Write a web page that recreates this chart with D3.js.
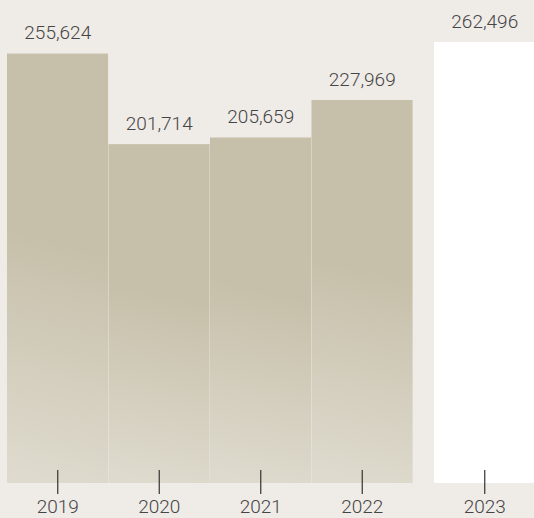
<!DOCTYPE html>
<html lang="en">
    <head>
        <meta charset="utf-8">
        <title>Yearly totals</title>
        <script type="text/javascript" src="https://cdn.jsdelivr.net/npm/d3@7"></script>
        <style>
            body { margin: 0; background: #efebe7; }
            svg { display: block; }
            .label, .tick text {
                font-family: Roboto, sans-serif;
                font-weight: 300;
                font-size: 19px;
                fill: #454545;
            }
        </style>
    </head>
    <body>
        <script type="text/javascript">
            var w = 534;
            var h = 518;

            var years = ["2019", "2020", "2021", "2022", "2023"];
            var totals = [255624, 201714, 205659, 227969, 262496];
            var highlight = ["2023"];

            var base = 483;
            // extra space pushed in front of the highlighted year
            var gap = 21;

            var svg = d3.select("body").append("svg").attr("width", w).attr("height", h);

            var xscale = d3.scaleBand().domain(years).range([7, 514.5]).padding(0);
            var yscale = d3.scaleLinear().domain([0, 287500]).range([base, 0]);

            function xpos(d) {
                return xscale(d) + (highlight.indexOf(d) >= 0 ? gap : 0);
            }

            // mostly vertical fade, a little lighter towards the lower left
            var grad = svg.append("defs").append("linearGradient")
                .attr("id", "barfade")
                .attr("x1", 0.53).attr("y1", 0).attr("x2", 0.47).attr("y2", 1);
            grad.append("stop").attr("offset", 0).attr("stop-color", "#c6c0aa");
            grad.append("stop").attr("offset", 0.44).attr("stop-color", "#c6c0aa");
            grad.append("stop").attr("offset", 1).attr("stop-color", "#dedacd");

            var data = years.map(function (y, i) { return { year: y, value: totals[i] }; });

            svg.append("g").selectAll("rect").data(data).enter().append("rect")
               .attr("x", function (d) { return xpos(d.year); })
               .attr("y", function (d) { return yscale(d.value); })
               .attr("width", xscale.bandwidth() - 0.4)
               .attr("height", function (d) { return base - yscale(d.value); })
               .attr("fill", function (d) { return highlight.indexOf(d.year) >= 0 ? "#ffffff" : "url(#barfade)"; });

            svg.append("g").selectAll("text").data(data).enter().append("text")
               .attr("class", "label")
               .attr("text-anchor", "middle")
               .attr("x", function (d) { return xpos(d.year) + xscale.bandwidth() / 2; })
               .attr("y", function (d) { return yscale(d.value) - 14.5; })
               .text(function (d) { return d3.format(",")(d.value); });

            // axis: ticks cross the baseline, no domain line
            var xaxis = d3.axisBottom(xscale).tickSize(24).tickPadding(6);
            var ax = svg.append("g").attr("class", "x axis")
                        .attr("transform", "translate(0," + (base - 13) + ")")
                        .call(xaxis);
            ax.select(".domain").remove();
            ax.selectAll(".tick")
              .attr("transform", function (d) { return "translate(" + (xpos(d) + xscale.bandwidth() / 2) + ",0)"; });
            ax.selectAll(".tick line").attr("stroke", "#333").attr("stroke-width", 1.2);
            ax.selectAll(".tick text").attr("fill", "#454545");
        </script>
    </body>
</html>
